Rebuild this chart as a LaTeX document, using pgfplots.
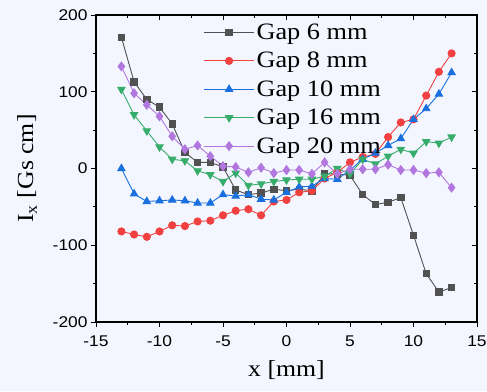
\documentclass[border=0pt]{standalone}
\usepackage{fontspec}
\setmainfont[FakeStretch=1.12]{Liberation Serif}
\newfontfamily\arialf[FakeStretch=1.12]{Liberation Sans}
\usepackage{pgfplots}
\pgfplotsset{compat=1.18}
\definecolor{bgc}{RGB}{243,246,254}
\definecolor{cblk}{HTML}{515151}
\definecolor{cred}{HTML}{F14040}
\definecolor{cblu}{HTML}{1A6FDF}
\definecolor{cgrn}{HTML}{37AD6B}
\definecolor{cpur}{HTML}{B177DE}
\begin{document}
\begin{tikzpicture}
\fill[bgc] (0,0) rectangle (487pt,391pt);
\pgfplotsset{
  common/.style={
    at={(96pt,69pt)}, anchor=south west, scale only axis,
    width=381pt, height=307pt,
    xmin=-15, xmax=15, ymin=-200, ymax=200,
    xtick={-15,-10,...,15}, ytick={-200,-100,...,200},
    minor x tick num=1, minor y tick num=1,
    major tick length=5pt, minor tick length=3pt,
    axis line style={line width=1.1pt, black},
    every tick/.style={line width=0.9pt, black},
    axis background/.style={fill=none},
  }
}
\begin{axis}[common,
  xtick pos=top, ytick pos=right, tick align=inside,
  xticklabels={}, yticklabels={}]
\end{axis}
\begin{axis}[common,
  xtick pos=bottom, ytick pos=left, tick align=outside,
  /pgf/number format/assume math mode=true,
  ticklabel style={font=\arialf\fontsize{15.5}{17}\selectfont},
  xticklabel style={yshift=-5pt},
  label style={font=\fontsize{23}{26}\selectfont},
  xlabel={x [mm]},
  ylabel={I\textsubscript{x} [Gs cm]},
  xlabel style={at={(axis description cs:0.5,-0.155)}, anchor=center},
  ylabel style={at={(axis description cs:-0.181,0.5)}, anchor=center},
  every axis plot/.append style={line width=0.9pt, mark size=3.6pt},
  legend style={draw=none, fill=none, at={(axis description cs:0.282,0.978)}, anchor=north west,
    font=\fontsize{23.5}{27}\selectfont, row sep=7.3pt, inner sep=0pt},
  legend cell align=left,
  legend image code/.code={\draw[mark repeat=2,mark phase=2] plot coordinates {(0pt,0pt) (25pt,0pt) (50pt,0pt)};},
]
\addplot[cblk, mark=square*, mark size=3.2pt] coordinates {
(-13,171)(-12,113)(-11,90)(-10,80)(-9,58)(-8,21)(-7,8)(-6,8)(-5,2)(-4,-28)(-3,-34)(-2,-32)(-1,-27)(0,-29)(1,-27)(2,-29)(3,-7)(4,-7)(5,-9)(6,-34)(7,-47)(8,-44)(9,-38)(10,-87)(11,-137)(12,-161)(13,-155)};
\addlegendentry{Gap 6 mm}
\addplot[cred, mark=*] coordinates {
(-13,-82)(-12,-86)(-11,-89)(-10,-82)(-9,-74)(-8,-75)(-7,-69)(-6,-68)(-5,-61)(-4,-55)(-3,-53)(-2,-61)(-1,-43)(0,-41)(1,-31)(2,-29)(3,-13)(4,-5)(5,8)(6,15)(7,19)(8,41)(9,60)(10,64)(11,95)(12,126)(13,150)};
\addlegendentry{Gap 8 mm}
\addplot[cblu, mark=triangle*, mark size=4.2pt] coordinates {
(-13,0)(-12,-33)(-11,-43)(-10,-42)(-9,-41)(-8,-42)(-7,-45)(-6,-45)(-5,-34)(-4,-36)(-3,-34)(-2,-40)(-1,-41)(0,-31)(1,-24)(2,-23)(3,-13)(4,-14)(5,-2)(6,12)(7,20)(8,30)(9,39)(10,64)(11,78)(12,97)(13,125)};
\addlegendentry{Gap 10 mm}
\addplot[cgrn, mark=triangle*, mark size=4.2pt, mark options={rotate=180}] coordinates {
(-13,103)(-12,70)(-11,49)(-10,28)(-9,12)(-8,10)(-7,-3)(-6,-8)(-5,-17)(-4,-6)(-3,-22)(-2,-20)(-1,-17)(0,-15)(1,-14)(2,-14)(3,-10)(4,0)(5,-7)(6,12)(7,6)(8,16)(9,25)(10,20)(11,35)(12,33)(13,41)};
\addlegendentry{Gap 16 mm}
\addplot[cpur, mark=diamond*, mark size=4.4pt] coordinates {
(-13,133)(-12,98)(-11,83)(-10,68)(-9,42)(-8,25)(-7,30)(-6,16)(-5,3)(-4,2)(-3,-5)(-2,1)(-1,-6)(0,-2)(1,-2)(2,-7)(3,8)(4,-7)(5,-1)(6,-1)(7,-1)(8,5)(9,-2)(10,-2)(11,-6)(12,-5)(13,-25)};
\addlegendentry{Gap 20 mm}
\end{axis}
\pgfresetboundingbox
\path[use as bounding box] (0,0) rectangle (487pt,391pt);
\end{tikzpicture}
\end{document}
